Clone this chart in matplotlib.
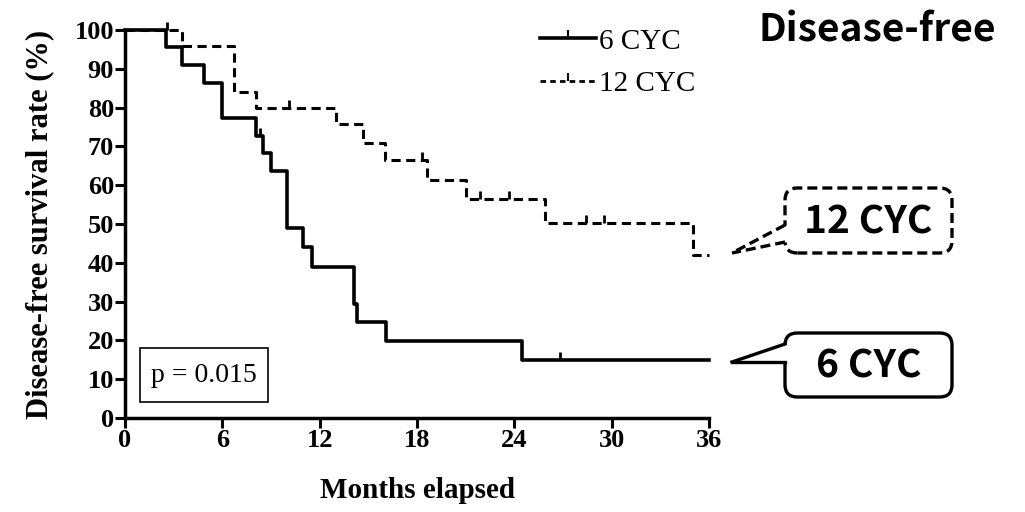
import numpy as np
import matplotlib
matplotlib.use("Agg")
import matplotlib.pyplot as plt
from matplotlib.patches import FancyBboxPatch, Polygon, Rectangle
from matplotlib.lines import Line2D
from matplotlib.path import Path

# Kaplan-Meier steps (months, survival %)
t6 = [0, 2.5, 3.5, 4.9, 6.0, 8.1, 8.5, 9.0, 10.0, 11.0, 11.5, 14.1, 14.3, 16.1, 24.5, 36]
s6 = [100, 95.5, 90.9, 86.4, 77.3, 72.7, 68.2, 63.6, 48.9, 44.2, 39.0, 29.5, 24.8, 19.9, 15.0, 15.0]
cens6 = [8.3, 26.8]

t12 = [0, 3.5, 6.7, 8.1, 13.0, 14.7, 16.0, 18.6, 21.0, 25.9, 35.0, 36]
s12 = [100, 95.8, 84.0, 80.0, 75.8, 71.0, 66.5, 61.3, 56.4, 50.3, 42.0, 42.0]
cens12 = [2.6, 10.1, 18.3, 21.9, 23.7, 28.4, 29.5]

groups = ["6 CYC", "12 CYC"]
p_text = "p = 0.015"
xticks = [0, 6, 12, 18, 24, 30, 36]
yticks = list(range(0, 101, 10))

serif = "Liberation Serif"
sans = ["Noto Sans CJK JP", "DejaVu Sans"]

W, H = 1025, 512
fig = plt.figure(figsize=(W / 100, H / 100), dpi=100)
ax = fig.add_axes([125 / W, 1 - 418 / H, (709 - 125) / W, (418 - 30) / H])

tick_up = Path([(0, 0), (0, 1)])


def surv_at(t, times, vals):
    i = np.searchsorted(times, t, side="right") - 1
    return np.asarray(vals)[i]


ax.step(t12, s12, where="post", color="black", lw=2.2, ls=(0, (3, 1.8)),
        clip_on=False, zorder=3)
ax.step(t6, s6, where="post", color="black", lw=2.6, clip_on=False, zorder=4)
ax.plot(cens12, surv_at(cens12, t12, s12), ls="none", marker=tick_up,
        ms=12, mew=2, color="black", clip_on=False, zorder=3)
ax.plot(cens6, surv_at(cens6, t6, s6), ls="none", marker=tick_up,
        ms=12, mew=2, color="black", clip_on=False, zorder=4)

ax.set_xlim(0, 36)
ax.set_ylim(0, 100)
ax.set_xticks(xticks)
ax.set_yticks(yticks)
for s in ["top", "right"]:
    ax.spines[s].set_visible(False)
for s in ["left", "bottom"]:
    ax.spines[s].set_linewidth(2.5)
ax.tick_params(direction="out", length=7, width=2.2, pad=1)
for lab in ax.get_xticklabels() + ax.get_yticklabels():
    lab.set_fontfamily(serif)
    lab.set_fontweight("bold")
    lab.set_fontsize(19)
ax.set_xlabel("Months elapsed", family=serif, weight="bold", fontsize=21)
ax.set_ylabel("Disease-free survival rate (%)", family=serif, weight="bold", fontsize=22)
ax.xaxis.set_label_coords(0.5, -0.152)
ax.yaxis.set_label_coords(-0.122, 0.5)

# legend
handles = [
    Line2D([], [], color="black", lw=2.6, marker=tick_up, ms=11, mew=1.5),
    Line2D([], [], color="black", lw=2, ls=(0, (2, 1.5)), marker=tick_up, ms=11, mew=1.5),
]
fig.legend(handles, groups, loc="upper left", bbox_to_anchor=(514 / W, 1 - 2 / H),
           frameon=False, prop={"family": serif, "size": 21}, handlelength=1.9,
           handletextpad=0.1, labelspacing=0.55, numpoints=1)

# p-value box
ax.add_patch(Rectangle((0.92, 4.1), 7.9, 13.9, fill=False, lw=1.2, color="black"))
ax.text(4.87, 11.0, p_text, family=serif, fontsize=20, ha="center", va="center")

fig.text(877 / W, 1 - 30 / H, "Disease-free", family=sans, weight="bold",
         fontsize=28, ha="center", va="center")


def callout(box, base_top, base_bot, tip, label, ls):
    x0, y0, x1, y1 = box
    fx = lambda x: x / W
    fy = lambda y: 1 - y / H
    fig.patches.append(FancyBboxPatch(
        (fx(x0), fy(y1)), fx(x1) - fx(x0), fy(y0) - fy(y1),
        boxstyle="round,pad=0,rounding_size=0.012", transform=fig.transFigure,
        facecolor="white", edgecolor="black", lw=2.4, ls=ls, mutation_aspect=2.0))
    pts = [(fx(base_top[0] + 3), fy(base_top[1])), (fx(tip[0]), fy(tip[1])),
           (fx(base_bot[0] + 3), fy(base_bot[1]))]
    fig.patches.append(Polygon(pts, closed=True, transform=fig.transFigure,
                               facecolor="white", edgecolor="none"))
    for b in (base_top, base_bot):
        fig.lines.append(Line2D([fx(b[0]), fx(tip[0])], [fy(b[1]), fy(tip[1])],
                                transform=fig.transFigure, color="black", lw=2.4, ls=ls))
    fig.text(fx((x0 + x1) / 2), fy((y0 + y1) / 2 + 1), label, family=sans, weight="bold",
             fontsize=28, ha="center", va="center")


callout((785, 188, 952, 253), (785, 225), (785, 242), (732, 253), groups[1], (0, (3, 1.5)))
callout((785, 333, 952, 397), (785, 344), (785, 362), (732, 362), groups[0], "-")

fig.savefig("out.png", dpi=100)
